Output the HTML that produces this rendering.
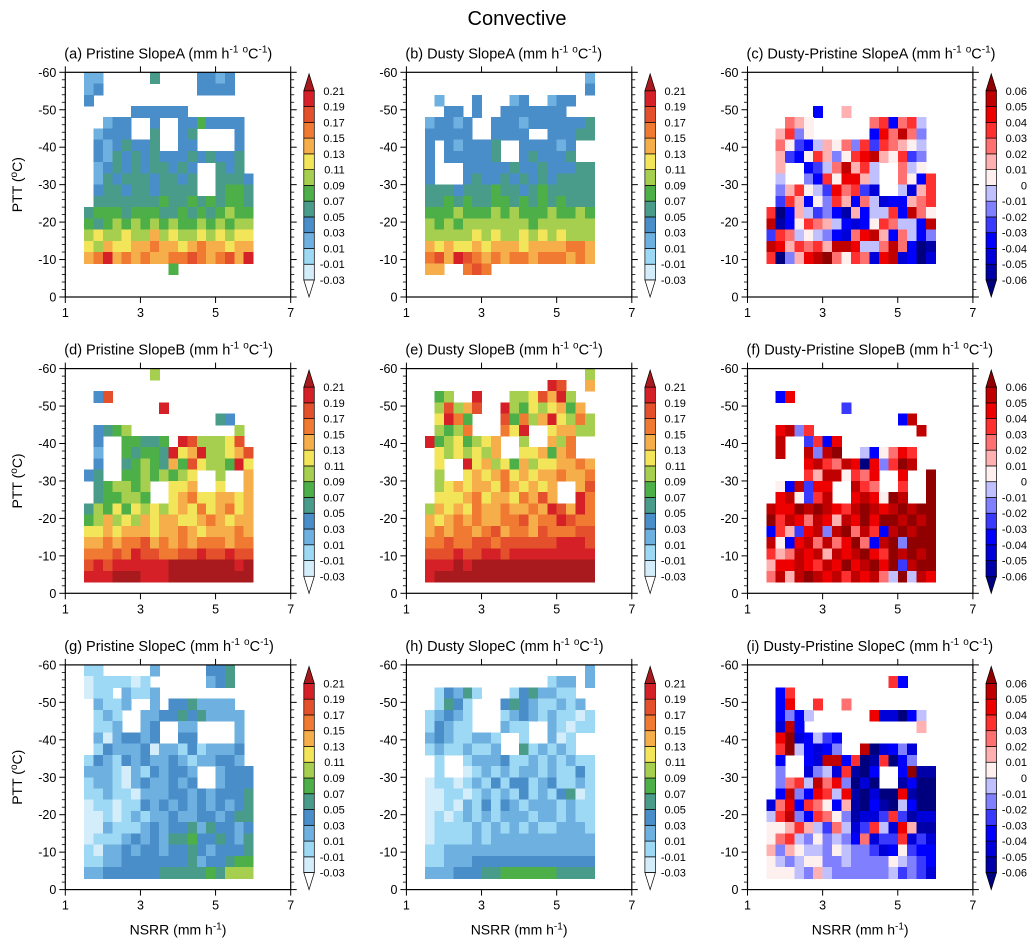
<!DOCTYPE html>
<html><head><meta charset="utf-8"><style>
html,body{margin:0;padding:0;background:#fff;}
svg{display:block;font-family:"Liberation Sans",Arial,sans-serif;}
</style></head><body>
<svg id="fig" width="1034" height="951" viewBox="0 0 1034 951" xmlns="http://www.w3.org/2000/svg">
<text x="517" y="25" text-anchor="middle" font-size="20">Convective</text>
</svg>
<script>
const xTicks=[1,3,5,7];
const yTicks=[0,-10,-20,-30,-40,-50,-60];
const seqLabels=["-0.03","-0.01","0.01","0.03","0.05","0.07","0.09","0.11","0.13","0.15","0.17","0.19","0.21"];
const divLabels=["-0.06","-0.05","-0.04","-0.03","-0.02","-0.01","0","0.01","0.02","0.03","0.04","0.05","0.06"];
const seqColors=["#ffffff","#d4edfa","#9dd8f5","#6eb0df","#4a8ec9","#4a9c8a","#4daf48","#a6cf4f","#f3e55a","#f6ae4b","#f07a32","#e4502b","#d52027","#a81a1e"];
const divColors=["#00007f","#0000a8","#0000d8","#0000ff","#3a3aff","#8080ff","#c0c0ff","#fff0f0","#ffb0b0","#ff7070","#ff3030","#ee0000","#c00000","#900000"];
const gridA=["33.....5....4434..","34..........4444..","4.................",".....444444.......","..344..4..4464444.",".3444..5..45....4.",".4345445..44....4.",".4354545444545445.",".34545455454..545.",".35455545545..5554",".45545545555..5665",".55555556556565665","566656665565656766","656767676766767677","787787797877878788","8798899a9989a99899","9ac9a9a99aaba9ab9c",".........6........","..................",".................."];
const gridB=[".................3",".................4",".3...4...34..344..","..44.4..4444444...","34434..44434444445","44444..4444..44455","4.434445..444434..","4.444445..454445..","4...44444544544455","4...45445454545555","555455565545655555","556565566565656555","666766676766676676","767677777776777777","777778787787878777","989889899989999aa9","ab9cba9a9aa9aaa9a9","99..aba...........","..................",".................."];
const gridC=["..................","..................","..................",".....3..8.........","..987......9a39a6.",".8a57......3b9c95.",".974368795a4a9876.",".8437a857abc87a45.",".8..3469c8a6..967.",".6..53a7bb86..973a",".58a764b9a42..628a",".4a8375a839623389a","a038645318366a3c97","c137a9863237a9663c","4a96765329bc839635","cb8a9a8ccb669c9301","a058bcd97a92bc2302","..................","..................",".................."];
const gridD=[".......7..........","..................",".4b...............","........c.........","..............54..",".4567...........7.",".4..66556.cb7778b.",".3..65665c89c7789b",".4..5676596b8776c8","45..66767678..7..9",".567767..889..8..9",".566776..89a889989","576868787898a89a89","6797879899889a9899","8898999899a98999a9","99a9aab9a9a9aaa9aa","aaabacbbaabbcbbcbb","bcbccccccdddddddcd","cccdddcccddddddddd",".................."];
const gridE=[".................7",".............cb..9",".67..c...778b9c7..",".7b79b..c76878969.",".8ca6...b6a79c87a7",".767a...a8c..89977","c6786789..7..97a..",".8787879..88969a..",".8..c89786978899a9",".7..8989a89899a99a",".7898998a98989..9b",".8889a8998a9b9..ca","79898a99a99a9cb9ca","989a9a99aab9aacbaa","9a9aa9ab9aa9baaabb","aabaabbabbbbbbcccb","bbbcbbccbccccccccc","cccdcddddddddddddd","cddddddddddddddddd",".................."];
const gridF=["..................","..................",".3b...............","........4.........","..............3c..",".bc5a...........c.",".c..4a3b..........",".c..c5cd..6379ba..","....bca9cb0b5adc..","....a8cc7a9b..b..d",".73c4bb..ca9..a..d",".bc74ac..bcb7dc..d","cbbdcdcbacdcbcdcdd","dacb9cb8cbdbddcdcd","3a84bc5cd9ca3cdcdd","c73bc9c9bd93cd5ddd","a89cbc8cbcdbadcdcd","8bbcbacbdbcdbd4cdd","9c8cdcbcacbc96d6cb",".................."];
const gridG=["22.....3.....445..","1222212......345..","122.3223..........",".3223..3.4453333..",".232..33445453333.",".223..34..33....3.",".3134434..44....3.",".2433341332423334.","24324343343233443.","333213243443..3444","233213433434..3444","223221333443434445","122122434343434345","112123233433443455","113222343445354434","122234343556445435","213343443445434445","223344444445344566","334444445555565777",".................."];
const gridH=[".................3",".............233.3",".24352...2453322..",".2542...454322323.","23432...2343232212","24322...322..32122","34322332..2..312..","23223223..523232..",".2..23334223232322",".2..12323233232242","122123242442342232","112212323242324512","112132424323332322","121232323332332322","122223232323223332","122223233333333333","223333333333333333","223334444444444444","333444556666665555",".................."];
const gridI=["..................",".............a3...",".3a...............",".3b..a..9.........",".3536......b22036.",".2c3............8.",".bd23643..........",".ad63235..c02352..",".3..32cc3a01a035..",".5..2562a103..3d11",".59a6c9b5020..1300",".3c53ba6b10200b100","29b3a9738103106300","6ac53a9751224a4122","778a8649624a62b811","79a65756539244a242","858766576554237433","765677556555576543","777658655555564542",".................."];

const panels=[
 {id:"a",t:"(a) Pristine SlopeA",g:gridA,div:false,c:0,r:0},
 {id:"b",t:"(b) Dusty SlopeA",g:gridB,div:false,c:1,r:0},
 {id:"c",t:"(c) Dusty-Pristine SlopeA",g:gridC,div:true,c:2,r:0},
 {id:"d",t:"(d) Pristine SlopeB",g:gridD,div:false,c:0,r:1},
 {id:"e",t:"(e) Dusty SlopeB",g:gridE,div:false,c:1,r:1},
 {id:"f",t:"(f) Dusty-Pristine SlopeB",g:gridF,div:true,c:2,r:1},
 {id:"g",t:"(g) Pristine SlopeC",g:gridG,div:false,c:0,r:2},
 {id:"h",t:"(h) Dusty SlopeC",g:gridH,div:false,c:1,r:2},
 {id:"i",t:"(i) Dusty-Pristine SlopeC",g:gridI,div:true,c:2,r:2}
];
const NS="http://www.w3.org/2000/svg";
const svg=document.getElementById("fig");
function mk(tag,attrs,parent){const e=document.createElementNS(NS,tag);for(const k in attrs)e.setAttribute(k,attrs[k]);(parent||svg).appendChild(e);return e;}
const PW=225.4,PH=224.7;
const LVL="0123456789abcd";
panels.forEach(p=>{
  const x0=65.3+p.c*341.1, y0=72.3+p.r*296.3;
  const sx=v=>x0+(v-1)/6*PW;
  const sy=v=>y0+(v+60)/-60*-PH;
  const g=mk("g",{});
  
  
  const cols=p.div?divColors:seqColors;
  const cg=mk("g",{"shape-rendering":"crispEdges"},g);
  
  
  p.g.forEach((row,ri)=>{
    for(let ci=0;ci<18;ci++){
      const ch=row.charAt(ci);const k=LVL.indexOf(ch);
      if(k<0)continue;
      const xa=sx(1.5+0.25*ci),xb=sx(1.75+0.25*ci);
      const ya=sy(-60+3*ri),yb=sy(-57+3*ri);
      const r=mk("rect",{x:xa,y:ya,width:xb-xa+0.6,height:yb-ya+0.6,fill:cols[k]},cg);
      
      
    }
  });
  const fr=mk("rect",{x:x0,y:y0,width:PW,height:PH,fill:"none",stroke:"#000","stroke-width":1.2},g);
  
  
  xTicks.forEach(v=>{
    const x=sx(v);
    mk("line",{x1:x,x2:x,y1:y0+PH,y2:y0+PH+6,stroke:"#000"},g);
    mk("line",{x1:x,x2:x,y1:y0,y2:y0-6,stroke:"#000"},g);
    const t=mk("text",{x:x,y:y0+PH+20,"text-anchor":"middle","font-size":12.5},g);
    t.textContent=v;
    
    
  });
  for(let v=-60;v<=0;v+=2){
    const y=sy(v);const maj=v%10===0;const L=maj?6:3.5;
    mk("line",{x1:x0,x2:x0-L,y1:y,y2:y,stroke:"#000","stroke-width":maj?1:0.8},g);
    mk("line",{x1:x0+PW,x2:x0+PW+L,y1:y,y2:y,stroke:"#000","stroke-width":maj?1:0.8},g);
  }
  yTicks.forEach(v=>{
    const t=mk("text",{x:x0-9,y:sy(v)+4.5,"text-anchor":"end","font-size":12.5},g);
    t.textContent=v;
    
    
  });
  const tt=mk("text",{x:x0-1,y:y0-14,"font-size":14.5},g);
  
  
  tt.innerHTML=p.t+' (mm h<tspan dy="-6" font-size="10">-1</tspan><tspan dy="6"> </tspan><tspan dy="-6" font-size="10">o</tspan><tspan dy="6">C</tspan><tspan dy="-6" font-size="10">-1</tspan><tspan dy="6">)</tspan>';
  if(p.c===0){
    const yl=mk("text",{x:0,y:0,"text-anchor":"middle","font-size":14,transform:`translate(22,${y0+PH/2}) rotate(-90)`},g);
    yl.innerHTML='PTT (<tspan dy="-5" font-size="10">o</tspan><tspan dy="5">C)</tspan>';
    
    
  }
  if(p.r===2){
    const xl=mk("text",{x:x0+PW/2,y:y0+PH+45,"text-anchor":"middle","font-size":14},g);
    xl.innerHTML='NSRR (mm h<tspan dy="-5" font-size="10">-1</tspan><tspan dy="5">)</tspan>';
    
    
  }
  const cb=mk("g",{},g);
  
  
  const bx=x0+238.5,bw=10.5,top=y0+18.5,bot=y0+207.7;
  const labels=p.div?divLabels:seqLabels;
  const n=labels.length-1,h=(bot-top)/n;
  for(let i=0;i<n;i++){
    mk("rect",{x:bx,y:bot-(i+1)*h,width:bw,height:h,fill:cols[i+1],stroke:"#000","stroke-width":0.7},cb);
  }
  mk("polygon",{points:`${bx},${top} ${bx+bw},${top} ${bx+bw/2},${top-17}`,fill:cols[13],stroke:"#000","stroke-width":0.7},cb);
  mk("polygon",{points:`${bx},${bot} ${bx+bw},${bot} ${bx+bw/2},${bot+17}`,fill:cols[0],stroke:"#000","stroke-width":0.7},cb);
  labels.forEach((lab,i)=>{
    const t=mk("text",{x:bx+41,y:bot-i*h+4,"text-anchor":"end","font-size":11},cb);
    t.textContent=lab;
    
    
  });
});
</script>
</body></html>
